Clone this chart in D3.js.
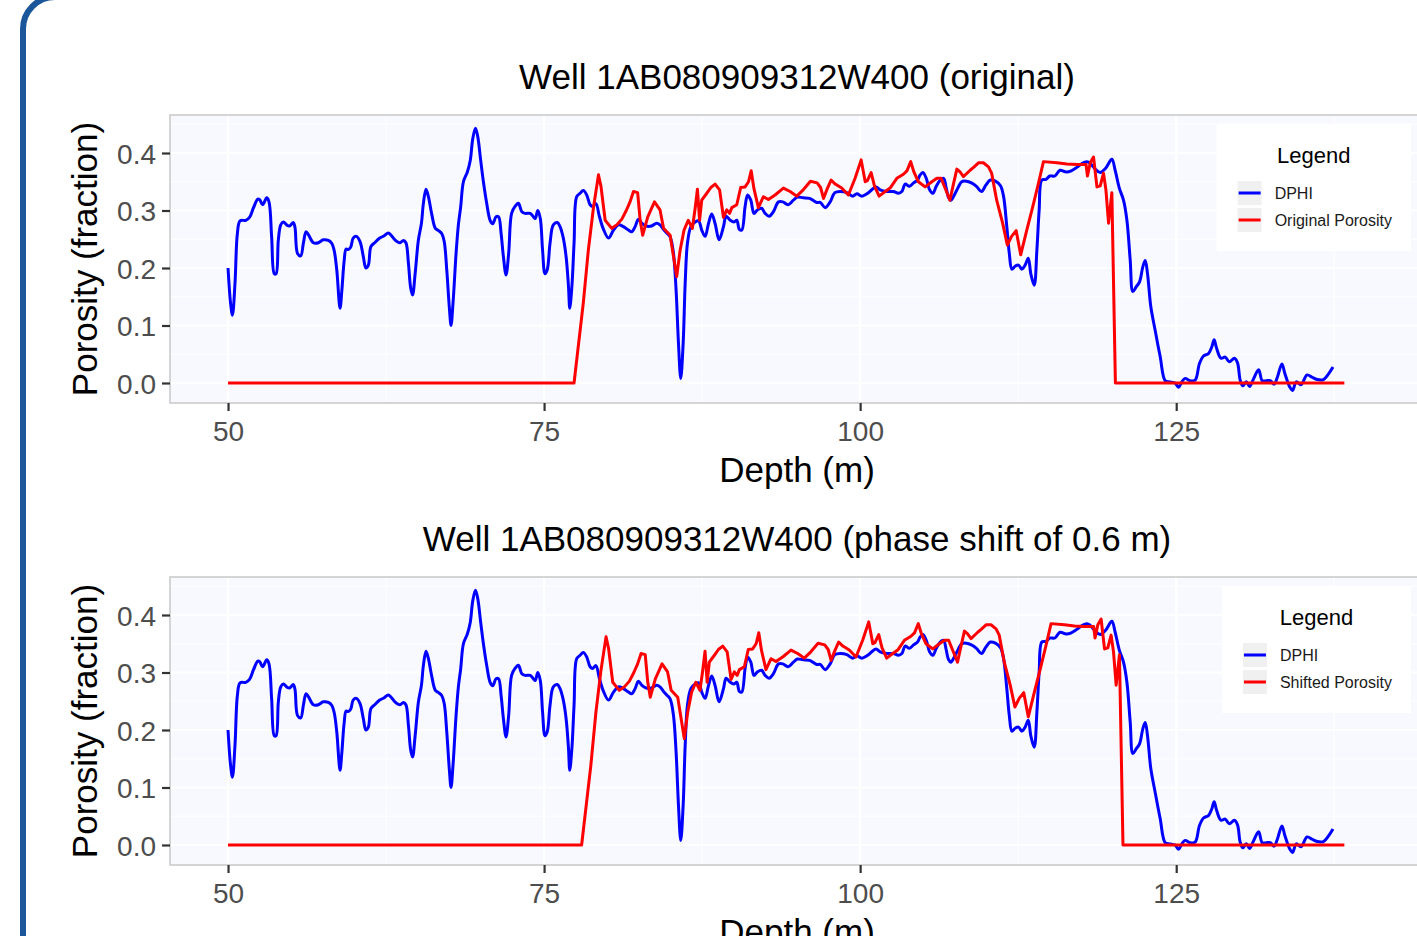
<!DOCTYPE html>
<html>
<head>
<meta charset="utf-8">
<script src="https://cdn.jsdelivr.net/npm/d3@7/dist/d3.min.js"></script>
<style>
  html, body { margin: 0; padding: 0; background: #ffffff; }
  svg { display: block; }
  text { font-family: "Liberation Sans", Arial, Helvetica, sans-serif; }
</style>
</head>
<body>
<svg id="chart" width="1417" height="936"></svg>
<script>
// ---------------- data ----------------
const panelTitles = ["Well 1AB080909312W400 (original)", "Well 1AB080909312W400 (phase shift of 0.6 m)"];
const xAxisTitle = "Depth (m)";
const yAxisTitle = "Porosity (fraction)";
const legendTitle = "Legend";
const seriesNames = ["DPHI", "Original Porosity", "Shifted Porosity"];
const depthTicks = [50, 75, 100, 125];
const depthMinorTicks = [62.5, 87.5, 112.5, 137.5];
const porosityTicks = [0.0, 0.1, 0.2, 0.3, 0.4];
const porosityMinorTicks = [0.05, 0.15, 0.25, 0.35, 0.45];
const PHASE_SHIFT = 0.6;

const dphiDepth = [50.0,50.2,50.35,50.55,50.74,50.95,51.4,51.7,52.0,52.35,52.5,52.74,53.06,53.24,53.45,53.66,53.8,53.98,54.17,54.38,54.64,54.85,55.17,55.3,55.5,55.75,55.96,56.17,56.38,56.75,57.15,57.54,57.94,58.2,58.4,58.6,58.86,59.0,59.18,59.34,59.5,59.7,59.9,60.15,60.44,60.7,60.9,61.1,61.3,61.6,62.0,62.35,62.68,62.9,63.2,63.6,63.87,64.07,64.27,64.45,64.6,64.8,65.06,65.3,65.45,65.66,65.85,66.1,66.4,66.65,66.9,67.1,67.3,67.5,67.64,67.8,68.04,68.22,68.4,68.62,68.93,69.16,69.36,69.57,69.75,69.98,70.2,70.46,70.73,70.94,71.2,71.4,71.6,71.78,71.99,72.2,72.43,72.7,72.97,73.24,73.5,73.9,74.16,74.3,74.5,74.7,74.88,75.07,75.25,75.47,75.73,76.05,76.26,76.5,76.74,76.93,77.03,77.2,77.37,77.58,77.85,78.1,78.37,78.64,78.85,79.1,79.37,79.7,80.1,80.49,80.88,81.27,81.67,81.93,82.2,82.46,82.72,83.07,83.5,83.9,84.17,84.48,84.7,84.97,85.23,85.44,85.63,85.81,86.0,86.16,86.34,86.61,86.95,87.22,87.47,87.74,88.0,88.26,88.53,88.84,89.19,89.4,89.72,90.03,90.24,90.45,90.64,90.9,91.1,91.35,91.6,91.87,92.2,92.48,92.8,93.14,93.54,93.88,94.3,94.72,95.04,95.5,96.0,96.57,96.84,97.24,97.63,98.0,98.44,98.95,99.4,99.74,100.13,100.53,100.92,101.26,101.58,102.1,102.63,103.03,103.3,103.56,103.9,104.22,104.54,104.75,104.96,105.23,105.49,105.75,106.02,106.33,106.6,106.8,106.98,107.17,107.43,107.77,108.03,108.4,108.8,109.2,109.6,109.94,110.3,110.7,111.1,111.34,111.6,111.8,112.0,112.26,112.53,112.79,113.05,113.3,113.5,113.77,113.98,114.16,114.37,114.7,115.0,115.4,115.8,116.3,116.7,117.14,117.5,117.93,118.2,118.6,118.99,119.4,119.91,120.17,120.5,120.83,121.1,121.36,121.57,121.83,122.1,122.36,122.55,122.73,122.99,123.33,123.73,124.13,124.5,124.9,125.18,125.45,125.7,126.1,126.5,126.84,127.16,127.55,127.82,128.0,128.2,128.54,128.88,129.2,129.6,129.85,130.06,130.27,130.54,130.8,131.07,131.52,131.8,132.13,132.44,132.75,133.0,133.36,133.6,133.96,134.2,134.5,134.87,135.35,135.75,136.15,136.65,137.05,137.4];
const dphiValue = [0.200,0.139,0.118,0.173,0.26,0.282,0.283,0.288,0.304,0.32,0.319,0.31,0.322,0.315,0.254,0.19,0.19,0.249,0.275,0.28,0.275,0.273,0.279,0.27,0.225,0.221,0.243,0.263,0.257,0.244,0.244,0.249,0.248,0.243,0.23,0.197,0.13,0.16,0.211,0.233,0.232,0.236,0.252,0.255,0.246,0.22,0.2,0.205,0.237,0.244,0.252,0.256,0.261,0.257,0.249,0.244,0.248,0.244,0.208,0.165,0.153,0.19,0.249,0.278,0.312,0.337,0.324,0.295,0.269,0.265,0.26,0.246,0.197,0.133,0.1,0.14,0.226,0.275,0.306,0.35,0.367,0.387,0.425,0.443,0.429,0.388,0.35,0.3125,0.283,0.277,0.289,0.289,0.26,0.22,0.188,0.226,0.295,0.307,0.3125,0.298,0.295,0.295,0.289,0.286,0.3,0.286,0.231,0.19,0.197,0.243,0.275,0.279,0.272,0.254,0.22,0.168,0.13,0.168,0.243,0.324,0.33,0.335,0.327,0.31,0.307,0.312,0.29,0.267,0.252,0.266,0.275,0.272,0.266,0.263,0.272,0.285,0.278,0.273,0.273,0.278,0.275,0.266,0.261,0.254,0.226,0.162,0.069,0.008,0.069,0.173,0.243,0.272,0.28,0.282,0.266,0.255,0.277,0.294,0.277,0.249,0.272,0.29,0.283,0.28,0.283,0.267,0.266,0.307,0.327,0.318,0.295,0.301,0.304,0.295,0.29,0.298,0.315,0.315,0.31,0.318,0.3235,0.322,0.321,0.314,0.314,0.305,0.315,0.331,0.333,0.331,0.325,0.329,0.325,0.329,0.336,0.341,0.336,0.333,0.333,0.33,0.333,0.346,0.342,0.348,0.353,0.362,0.366,0.356,0.336,0.33,0.342,0.353,0.356,0.34,0.323,0.318,0.326,0.341,0.35,0.351,0.348,0.342,0.333,0.344,0.353,0.351,0.343,0.325,0.272,0.225,0.198,0.203,0.205,0.198,0.205,0.217,0.19,0.17,0.231,0.301,0.353,0.354,0.36,0.36,0.37,0.367,0.369,0.375,0.381,0.385,0.382,0.372,0.366,0.373,0.389,0.37,0.339,0.318,0.283,0.214,0.159,0.167,0.176,0.202,0.213,0.19,0.133,0.092,0.046,0.004,0.002,0.0,-0.0075,0.002,0.008,0.004,0.005,0.034,0.047,0.051,0.063,0.075,0.06,0.043,0.045,0.037,0.043,0.035,0.005,-0.005,0.002,-0.006,0.005,0.023,0.004,0.004,0.004,-0.002,0.01,0.033,0.016,-0.006,-0.013,0.002,-0.003,0.014,0.01,0.006,0.006,0.016,0.028];

const origDepth = [50.0,77.37,78.1,78.5,78.9,79.3,79.5,79.83,80.35,80.75,81.15,81.5,81.8,82.07,82.4,82.6,82.8,83.2,83.73,84.17,84.45,84.97,85.49,85.76,86.07,86.4,86.73,86.95,87.13,87.3,87.47,87.87,88.19,88.53,88.88,89.19,89.45,89.67,89.85,90.24,90.55,90.9,91.17,91.38,91.6,91.95,92.35,92.74,93.27,93.93,94.46,94.98,95.5,96.07,96.6,96.87,97.1,97.4,97.7,98.03,98.54,99.07,99.6,100.08,100.4,100.57,100.87,101.13,101.5,101.98,102.37,102.9,103.42,103.7,104.0,104.25,104.61,105.14,105.67,106.07,106.4,106.77,107.1,107.37,107.65,107.9,108.17,108.7,108.97,109.36,109.75,110.15,110.4,110.8,111.27,111.64,111.98,112.34,112.7,113.18,113.66,114.1,114.5,115.56,116.35,117.14,117.87,117.98,118.2,118.46,118.73,118.99,119.25,119.44,119.65,119.91,120.19,138.3];
const origValue = [0,0,0.139,0.231,0.304,0.362,0.342,0.283,0.269,0.275,0.285,0.3,0.315,0.333,0.331,0.283,0.257,0.289,0.315,0.301,0.269,0.257,0.185,0.231,0.266,0.283,0.269,0.304,0.337,0.283,0.318,0.33,0.34,0.346,0.336,0.288,0.301,0.295,0.305,0.31,0.34,0.341,0.35,0.369,0.338,0.305,0.324,0.319,0.327,0.339,0.333,0.325,0.336,0.351,0.348,0.34,0.321,0.338,0.353,0.346,0.339,0.327,0.356,0.388,0.35,0.352,0.366,0.343,0.325,0.333,0.339,0.356,0.363,0.369,0.385,0.367,0.35,0.341,0.35,0.356,0.356,0.336,0.318,0.345,0.372,0.367,0.359,0.37,0.375,0.383,0.383,0.376,0.365,0.318,0.278,0.24,0.255,0.265,0.223,0.266,0.307,0.347,0.385,0.383,0.381,0.38,0.38,0.36,0.383,0.393,0.341,0.343,0.365,0.336,0.278,0.331,0,0];

// shifted porosity: same log moved 0.6 m deeper, kept on the same depth grid
const lastDepth = origDepth[origDepth.length - 1];
const shiftedDepth = origDepth.map((d, i) => i === 0 ? d : Math.min(d + PHASE_SHIFT, lastDepth));
const shiftedValue = origValue.slice();

// ---------------- layout ----------------
const W = 1417, H = 936;
const panelLeft = 170, panelRight = 1424;
const panelTops = [115, 577];
const panelHeight = 288;
const xDomain = [45.41, 144.6];
const yDomain = [-0.0348, 0.4661];
const FONT = '"Liberation Sans", Arial, Helvetica, sans-serif';

const svg = d3.select("#chart");
svg.append("rect").attr("width", W).attr("height", H).attr("fill", "#ffffff");

// blue slide frame
svg.append("rect")
  .attr("x", 23).attr("y", -3).attr("width", 3000).attr("height", 3000)
  .attr("rx", 32).attr("ry", 32)
  .attr("fill", "none").attr("stroke", "#1a5699").attr("stroke-width", 6);

const x = d3.scaleLinear().domain(xDomain).range([panelLeft, panelRight]);

const panels = [
  { title: panelTitles[0], depth: origDepth, value: origValue, label: seriesNames[1] },
  { title: panelTitles[1], depth: shiftedDepth, value: shiftedValue, label: seriesNames[2] }
];

panels.forEach((p, pi) => {
  const top = panelTops[pi];
  const bottom = top + panelHeight;
  const y = d3.scaleLinear().domain(yDomain).range([bottom, top]);
  const g = svg.append("g");

  // panel background
  g.append("rect").attr("x", panelLeft).attr("y", top)
    .attr("width", panelRight - panelLeft).attr("height", panelHeight)
    .attr("fill", "#f8f8ff");

  // minor grid
  g.selectAll(".vminor").data(depthMinorTicks).enter().append("line")
    .attr("x1", d => x(d)).attr("x2", d => x(d)).attr("y1", top).attr("y2", bottom)
    .attr("stroke", "#ffffff").attr("stroke-width", 1.1);
  g.selectAll(".hminor").data(porosityMinorTicks.filter(v => v > yDomain[0] && v < yDomain[1])).enter().append("line")
    .attr("x1", panelLeft).attr("x2", panelRight).attr("y1", d => y(d)).attr("y2", d => y(d))
    .attr("stroke", "#ffffff").attr("stroke-width", 1.1);
  // major grid
  g.selectAll(".vmajor").data(depthTicks).enter().append("line")
    .attr("x1", d => x(d)).attr("x2", d => x(d)).attr("y1", top).attr("y2", bottom)
    .attr("stroke", "#ffffff").attr("stroke-width", 2.2);
  g.selectAll(".hmajor").data(porosityTicks).enter().append("line")
    .attr("x1", panelLeft).attr("x2", panelRight).attr("y1", d => y(d)).attr("y2", d => y(d))
    .attr("stroke", "#ffffff").attr("stroke-width", 2.2);

  // lines
  const blueData = dphiDepth.map((d, i) => [d, dphiValue[i]]);
  const redData = p.depth.map((d, i) => [d, p.value[i]]);
  const blueLine = d3.line().x(d => x(d[0])).y(d => y(d[1])).curve(d3.curveCatmullRom.alpha(0.5));
  const redLine = d3.line().x(d => x(d[0])).y(d => y(d[1]));
  g.append("path").datum(blueData).attr("d", blueLine)
    .attr("fill", "none").attr("stroke", "#0000ff").attr("stroke-width", 3)
    .attr("stroke-linejoin", "round").attr("stroke-linecap", "butt");
  g.append("path").datum(redData).attr("d", redLine)
    .attr("fill", "none").attr("stroke", "#ff0000").attr("stroke-width", 3)
    .attr("stroke-linejoin", "round").attr("stroke-linecap", "butt");

  // panel border
  g.append("rect").attr("x", panelLeft).attr("y", top)
    .attr("width", panelRight - panelLeft).attr("height", panelHeight)
    .attr("fill", "none").attr("stroke", "#cbcbcb").attr("stroke-width", 1.6);

  // axes
  const yAxis = d3.axisLeft(y).tickValues(porosityTicks).tickFormat(d3.format(".1f"))
    .tickSize(8).tickPadding(6);
  const ya = g.append("g").attr("transform", `translate(${panelLeft},0)`).call(yAxis);
  ya.select(".domain").remove();
  ya.selectAll(".tick line").attr("stroke", "#333333").attr("stroke-width", 2.2);
  ya.selectAll(".tick text").attr("fill", "#4d4d4d").style("font-size", "28px")
    .style("font-family", FONT).attr("dy", "0.36em");

  const xAxis = d3.axisBottom(x).tickValues(depthTicks).tickFormat(d3.format("d"))
    .tickSize(8).tickPadding(10);
  const xa = g.append("g").attr("transform", `translate(0,${bottom})`).call(xAxis);
  xa.select(".domain").remove();
  xa.selectAll(".tick line").attr("stroke", "#333333").attr("stroke-width", 2.2);
  xa.selectAll(".tick text").attr("fill", "#4d4d4d").style("font-size", "28px")
    .style("font-family", FONT);

  const cx = (panelLeft + panelRight) / 2;
  // title
  g.append("text").attr("x", cx).attr("y", top - 26).attr("text-anchor", "middle")
    .style("font-size", "35px").attr("fill", "#000000").text(p.title);
  // x axis title
  g.append("text").attr("x", cx).attr("y", bottom + 79).attr("text-anchor", "middle")
    .style("font-size", "35px").attr("fill", "#000000").text(xAxisTitle);
  // y axis title
  g.append("text").attr("transform", `translate(97,${(top + bottom) / 2}) rotate(-90)`)
    .attr("text-anchor", "middle").style("font-size", "35px").attr("fill", "#000000")
    .text(yAxisTitle);

  // legend
  const lg = g.append("g");
  const labels = [seriesNames[0], p.label];
  const colors = ["#0000ff", "#ff0000"];
  const tmp = lg.append("text").style("font-size", "16px").text(labels[1]);
  const labW = Math.max(tmp.node().getComputedTextLength(), 40);
  tmp.remove();
  const boxRight = 1411;
  const boxW = 58 + labW + 19;
  const boxLeft = boxRight - boxW;
  const boxTop = top + 9;
  lg.append("rect").attr("x", boxLeft).attr("y", boxTop).attr("width", boxW).attr("height", 127)
    .attr("fill", "#ffffff");
  lg.append("text").attr("x", boxLeft + boxW / 2).attr("y", boxTop + 39).attr("text-anchor", "middle")
    .style("font-size", "22px").attr("fill", "#000000").text(legendTitle);
  labels.forEach((lab, i) => {
    const ky = boxTop + 57 + i * 27;
    lg.append("rect").attr("x", boxLeft + 21).attr("y", ky).attr("width", 24).attr("height", 24)
      .attr("fill", "#f0f0f0");
    lg.append("line").attr("x1", boxLeft + 22).attr("x2", boxLeft + 44)
      .attr("y1", ky + 12).attr("y2", ky + 12)
      .attr("stroke", colors[i]).attr("stroke-width", 3);
    lg.append("text").attr("x", boxLeft + 58).attr("y", ky + 18)
      .style("font-size", "16px").attr("fill", "#1a1a1a").text(lab);
  });
});
</script>
</body>
</html>
